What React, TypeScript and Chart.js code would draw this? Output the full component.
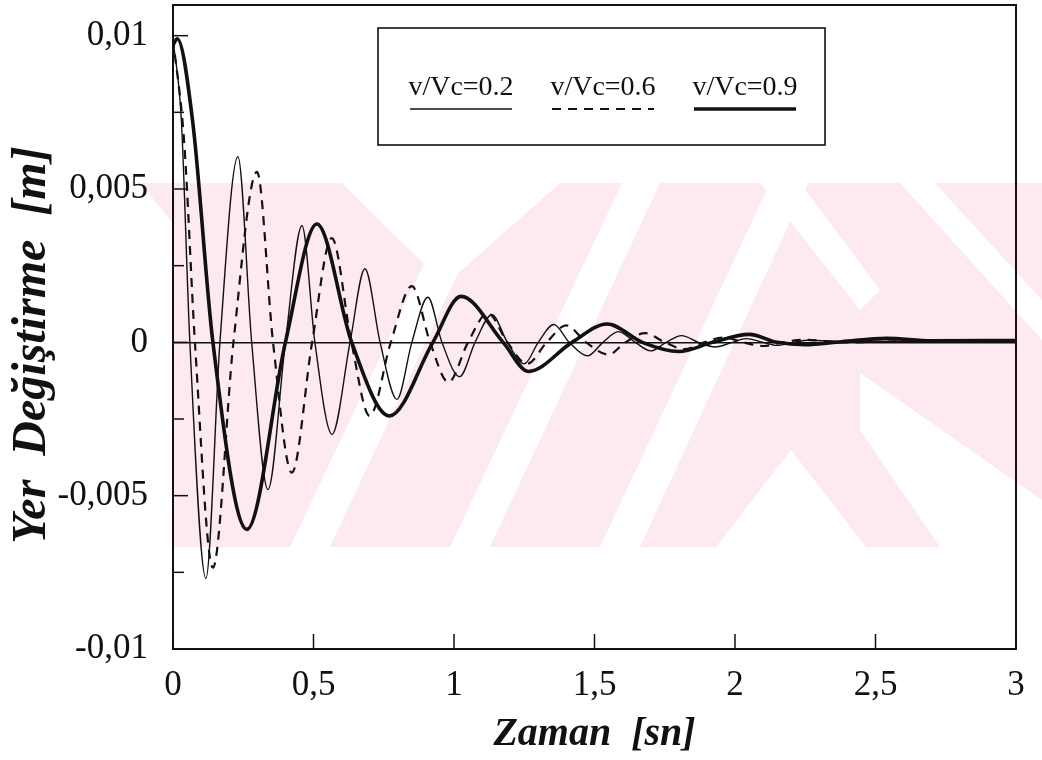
import React, { useEffect, useRef } from "react";
import { Chart, registerables } from "chart.js";

Chart.register(...registerables);

// ---------- data ----------
const SERIES_LABELS = ["v/Vc=0.2", "v/Vc=0.6", "v/Vc=0.9"];

// v/Vc = 0.2 (thin solid)
const T_02 = [0, 0.03, 0.06, 0.117, 0.167, 0.231, 0.28, 0.338, 0.4, 0.459, 0.505, 0.566, 0.63, 0.683, 0.737, 0.797, 0.85, 0.907, 0.957, 1.02, 1.075, 1.135, 1.19, 1.25, 1.3, 1.355, 1.41, 1.475, 1.53, 1.585, 1.645, 1.7, 1.755, 1.81, 1.87, 1.93, 1.99, 2.04, 2.1, 2.15, 2.21, 2.26, 2.4, 2.6, 2.8, 3.0];
const U_02 = [0.0099, 0.0072, 0, -0.0077, 0, 0.00605, 0, -0.0048, 0, 0.0038, 0, -0.003, 0, 0.0024, 0, -0.00186, 0, 0.00147, 0, -0.00112, 0, 0.0009, 0, -0.0007, 0, 0.00058, 0, -0.00044, 0, 0.00035, 0, -0.00028, 0, 0.00022, 0, -0.00015, 0, 0.00012, 0, -0.0001, 0, 0.00007, 0.00002, 0.00003, 0.00002, 0.00003];

// v/Vc = 0.6 (dashed)
const T_06 = [0, 0.04, 0.078, 0.142, 0.215, 0.299, 0.356, 0.423, 0.495, 0.565, 0.635, 0.7, 0.775, 0.85, 0.915, 0.98, 1.05, 1.12, 1.19, 1.26, 1.33, 1.4, 1.47, 1.55, 1.61, 1.68, 1.75, 1.82, 1.89, 1.96, 2.03, 2.1, 2.17, 2.24, 2.4, 2.6, 3.0];
const U_06 = [0.0099, 0.0065, 0, -0.00735, 0, 0.00556, 0, -0.00425, 0, 0.0034, 0, -0.0024, 0, 0.00183, 0, -0.0013, 0, 0.00095, 0, -0.0007, 0, 0.00055, 0, -0.0004, 0, 0.0003, 0, -0.00022, 0, 0.00016, 0, -0.00012, 0, 0.00008, 0, 0.00003, 0.00002];

// v/Vc = 0.9 (thick solid)
const T_09 = [0, 0.015, 0.07, 0.142, 0.263, 0.4, 0.512, 0.636, 0.77, 0.925, 1.025, 1.175, 1.265, 1.42, 1.545, 1.67, 1.8, 1.92, 2.05, 2.15, 2.25, 2.38, 2.54, 2.7, 3.0];
const U_09 = [0.0097, 0.0099, 0.0072, 0, -0.0061, 0, 0.00386, 0, -0.0024, 0, 0.0015, 0, -0.00095, 0, 0.0006, 0, -0.0003, 0, 0.00026, 0, -0.00008, 0.00002, 0.00013, 0.00005, 0.00006];

const X_TICKS = [0, 0.5, 1, 1.5, 2, 2.5, 3];
const X_TICK_LABELS = ["0", "0,5", "1", "1,5", "2", "2,5", "3"];
const Y_TICKS = [-0.01, -0.0075, -0.005, -0.0025, 0, 0.0025, 0.005, 0.0075, 0.01];
const Y_TICK_LABELS = ["-0,01", "", "-0,005", "", "0", "", "0,005", "", "0,01"];

const X_TITLE = "Zaman  [sn]";
const Y_TITLE = "Yer  Değiştirme  [m]   ";

// ---------- styles ----------
const FONT = "'Liberation Serif', 'Times New Roman', serif";
const INK = "#111";

const toPoints = (t: number[], u: number[]) => t.map((x, i) => ({ x, y: u[i] }));

// faint background watermark of the scanned page (decorative only)
const WM_BAND = { x: 140, y: 183, w: 902, h: 364 };
const WM_WHITE: number[][][] = [
  [[140, 183], [173, 223], [173, 547], [140, 547]],
  [[342, 183], [560, 183], [445, 285]],
  [[290, 547], [330, 547], [478, 230], [440, 230]],
  [[450, 547], [490, 547], [660, 183], [622, 183]],
  [[600, 547], [640, 547], [808, 183], [770, 183]],
  [[716, 547], [791, 450], [866, 547]],
  [[860, 373], [1042, 500], [1042, 547], [940, 547], [860, 430]],
  [[900, 183], [935, 183], [1042, 300], [1042, 340]],
  [[760, 183], [800, 183], [880, 290], [860, 310]],
];

const watermarkPlugin = {
  id: "watermark",
  beforeDraw(chart: any) {
    const ctx = chart.ctx as CanvasRenderingContext2D;
    ctx.save();
    ctx.fillStyle = "#fff";
    ctx.fillRect(0, 0, chart.width, chart.height);
    ctx.beginPath();
    ctx.rect(WM_BAND.x, WM_BAND.y, WM_BAND.w, WM_BAND.h);
    ctx.clip();
    ctx.fillStyle = "#fdeaee";
    ctx.fillRect(WM_BAND.x, WM_BAND.y, WM_BAND.w, WM_BAND.h);
    ctx.fillStyle = "#fff";
    for (const poly of WM_WHITE) {
      ctx.beginPath();
      poly.forEach(([x, y], i) => (i === 0 ? ctx.moveTo(x, y) : ctx.lineTo(x, y)));
      ctx.closePath();
      ctx.fill();
    }
    ctx.restore();
  },
};

// frame, inner tick marks and the boxed legend
const framePlugin = {
  id: "frame",
  afterDraw(chart: any) {
    const ctx = chart.ctx as CanvasRenderingContext2D;
    const { left, right, top, bottom } = chart.chartArea;
    const xs = chart.scales.x;
    const ys = chart.scales.y;
    ctx.save();
    ctx.strokeStyle = INK;
    ctx.lineWidth = 2;
    ctx.strokeRect(left, top, right - left, bottom - top);

    ctx.lineWidth = 1.5;
    Y_TICKS.forEach((v, i) => {
      const y = ys.getPixelForValue(v);
      const len = Y_TICK_LABELS[i] ? 15 : 11;
      ctx.beginPath();
      ctx.moveTo(left, y);
      ctx.lineTo(left + len, y);
      ctx.stroke();
    });
    X_TICKS.forEach((v) => {
      const x = xs.getPixelForValue(v);
      ctx.beginPath();
      ctx.moveTo(x, bottom);
      ctx.lineTo(x, bottom - 15);
      ctx.stroke();
    });

    // legend box: labels above their line samples
    const bx = left + 205;
    const by = top + 23;
    const bw = 447;
    const bh = 117;
    ctx.fillStyle = "#fff";
    ctx.fillRect(bx, by, bw, bh);
    ctx.lineWidth = 1.6;
    ctx.strokeRect(bx, by, bw, bh);
    ctx.font = `28px ${FONT}`;
    ctx.fillStyle = INK;
    ctx.textAlign = "center";
    ctx.textBaseline = "middle";
    chart.data.datasets.forEach((ds: any, i: number) => {
      const cx = bx + 83 + i * 142;
      ctx.fillText(ds.label, cx, by + 60);
      ctx.save();
      ctx.strokeStyle = ds.borderColor;
      ctx.lineWidth = ds.borderWidth;
      ctx.setLineDash(ds.borderDash || []);
      ctx.beginPath();
      ctx.moveTo(cx - 51, by + 81);
      ctx.lineTo(cx + 51, by + 81);
      ctx.stroke();
      ctx.restore();
    });
    ctx.restore();
  },
};

export default function App() {
  const ref = useRef<HTMLCanvasElement | null>(null);

  useEffect(() => {
    if (!ref.current) return;
    const chart = new Chart(ref.current, {
      type: "line",
      data: {
        datasets: [
          {
            label: SERIES_LABELS[0],
            data: toPoints(T_02, U_02),
            borderColor: INK,
            borderWidth: 1.4,
            pointRadius: 0,
            cubicInterpolationMode: "monotone",
            fill: false,
          },
          {
            label: SERIES_LABELS[1],
            data: toPoints(T_06, U_06),
            borderColor: INK,
            borderWidth: 2.2,
            borderDash: [9, 7],
            pointRadius: 0,
            cubicInterpolationMode: "monotone",
            fill: false,
          },
          {
            label: SERIES_LABELS[2],
            data: toPoints(T_09, U_09),
            borderColor: INK,
            borderWidth: 3.6,
            pointRadius: 0,
            cubicInterpolationMode: "monotone",
            fill: false,
          },
        ],
      },
      options: {
        responsive: false,
        animation: false,
        devicePixelRatio: 1,
        layout: { padding: { left: 0, right: 26, top: 5, bottom: 0 } },
        plugins: {
          legend: { display: false },
          tooltip: { enabled: false },
        },
        scales: {
          x: {
            type: "linear",
            min: 0,
            max: 3,
            afterBuildTicks: (s: any) => {
              s.ticks = X_TICKS.map((value) => ({ value }));
            },
            afterFit: (s: any) => {
              s.height = 111;
            },
            ticks: {
              callback: (_v: any, i: number) => X_TICK_LABELS[i],
              font: { family: FONT, size: 35 },
              color: INK,
              padding: 16,
              maxRotation: 0,
              autoSkip: false,
            },
            grid: { display: false, drawTicks: false },
            border: { display: false },
            title: {
              display: true,
              text: X_TITLE,
              color: INK,
              font: { family: FONT, size: 40, weight: "bold", style: "italic" },
              padding: { top: 0, bottom: 1 },
            },
          },
          y: {
            type: "linear",
            min: -0.01,
            max: 0.011,
            afterBuildTicks: (s: any) => {
              s.ticks = Y_TICKS.map((value) => ({ value }));
            },
            afterFit: (s: any) => {
              s.width = 173;
              s.paddingTop = 0;
              s.paddingBottom = 0;
            },
            ticks: {
              callback: (_v: any, i: number) => Y_TICK_LABELS[i],
              font: { family: FONT, size: 35 },
              color: INK,
              padding: 25,
              autoSkip: false,
            },
            grid: {
              drawTicks: false,
              lineWidth: 1.5,
              color: (c: any) => (c.tick && c.tick.value === 0 ? INK : "rgba(0,0,0,0)"),
            },
            border: { display: false },
            title: {
              display: true,
              text: Y_TITLE,
              color: INK,
              font: { family: FONT, size: 48, weight: "bold", style: "italic" },
              padding: { top: 4, bottom: 0 },
            },
          },
        },
      },
      plugins: [watermarkPlugin, framePlugin],
    } as any);
    return () => chart.destroy();
  }, []);

  return (
    <div style={{ position: "fixed", left: 0, top: 0, width: 1042, height: 760, background: "#fff" }}>
      <canvas ref={ref} width={1042} height={760} style={{ display: "block" }} />
    </div>
  );
}
